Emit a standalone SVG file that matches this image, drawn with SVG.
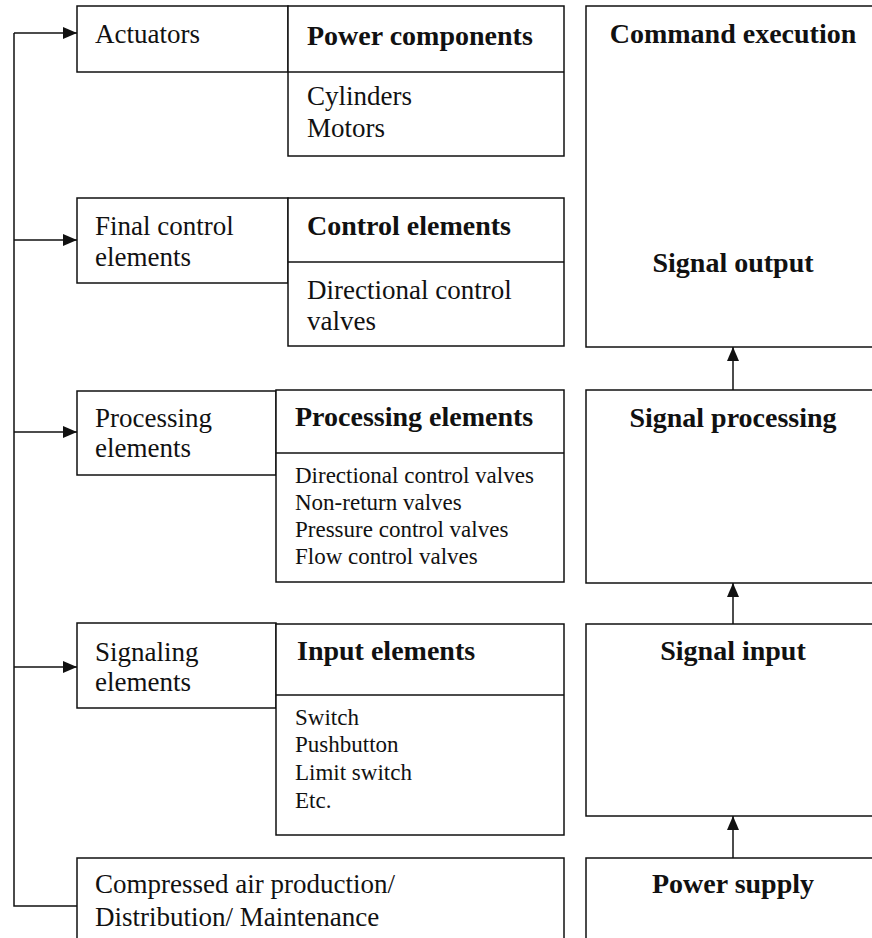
<svg xmlns="http://www.w3.org/2000/svg" width="872" height="938" viewBox="0 0 872 938">
<defs>
<style>
.box{fill:#fff;stroke:#111;stroke-width:1.5}
.ln{fill:none;stroke:#111;stroke-width:1.5}
.t{font-family:"Liberation Serif","Times New Roman",serif;font-size:27px;fill:#111}
.b{font-family:"Liberation Serif","Times New Roman",serif;font-size:28px;font-weight:bold;fill:#111}
.s{font-family:"Liberation Serif","Times New Roman",serif;font-size:23px;fill:#111}
.c{text-anchor:middle}
</style>
<marker id="ah" viewBox="0 0 14 12" refX="14" refY="6" markerWidth="14" markerHeight="12" markerUnits="userSpaceOnUse" orient="auto">
<path d="M0,0 L14,6 L0,12 Z" fill="#111"/>
</marker>
</defs>
<rect width="872" height="938" fill="#fff"/>

<g id="connectors">
<path class="ln" d="M14,33 V906 H77"/>
<line class="ln" x1="14" y1="33" x2="77" y2="33" marker-end="url(#ah)"/>
<line class="ln" x1="14" y1="240" x2="77" y2="240" marker-end="url(#ah)"/>
<line class="ln" x1="14" y1="432" x2="77" y2="432" marker-end="url(#ah)"/>
<line class="ln" x1="14" y1="667" x2="77" y2="667" marker-end="url(#ah)"/>
<line class="ln" x1="733" y1="390" x2="733" y2="347" marker-end="url(#ah)"/>
<line class="ln" x1="733" y1="624" x2="733" y2="583" marker-end="url(#ah)"/>
<line class="ln" x1="733" y1="858" x2="733" y2="816" marker-end="url(#ah)"/>
</g>

<g id="actuators">
<rect class="box" x="77" y="6" width="211" height="66"/>
<text class="t" x="95" y="43">Actuators</text>
</g>
<g id="power-components">
<rect class="box" x="288" y="6" width="276" height="150"/>
<line class="ln" x1="288" y1="72" x2="564" y2="72"/>
<text class="b" x="307" y="45">Power components</text>
<text class="t" x="307" y="105">Cylinders</text>
<text class="t" x="307" y="137">Motors</text>
</g>

<g id="final-control">
<rect class="box" x="77" y="198" width="211" height="85"/>
<text class="t" x="95" y="235">Final control</text>
<text class="t" x="95" y="266">elements</text>
</g>
<g id="control-elements">
<rect class="box" x="288" y="198" width="276" height="148"/>
<line class="ln" x1="288" y1="262" x2="564" y2="262"/>
<text class="b" x="307" y="235">Control elements</text>
<text class="t" x="307" y="299">Directional control</text>
<text class="t" x="307" y="330">valves</text>
</g>

<g id="processing">
<rect class="box" x="77" y="391" width="199" height="84"/>
<text class="t" x="95" y="427">Processing</text>
<text class="t" x="95" y="457">elements</text>
</g>
<g id="processing-elements">
<rect class="box" x="276" y="390" width="288" height="192"/>
<line class="ln" x1="276" y1="453" x2="564" y2="453"/>
<text class="b" x="295" y="426">Processing elements</text>
<text class="s" x="295" y="483">Directional control valves</text>
<text class="s" x="295" y="510">Non-return valves</text>
<text class="s" x="295" y="537">Pressure control valves</text>
<text class="s" x="295" y="564">Flow control valves</text>
</g>

<g id="signaling">
<rect class="box" x="77" y="623" width="199" height="85"/>
<text class="t" x="95" y="661">Signaling</text>
<text class="t" x="95" y="691">elements</text>
</g>
<g id="input-elements">
<rect class="box" x="276" y="624" width="288" height="211"/>
<line class="ln" x1="276" y1="695" x2="564" y2="695"/>
<text class="b" x="297" y="660">Input elements</text>
<text class="s" x="295" y="725">Switch</text>
<text class="s" x="295" y="752">Pushbutton</text>
<text class="s" x="295" y="780">Limit switch</text>
<text class="s" x="295" y="808">Etc.</text>
</g>

<g id="compressed-air">
<rect class="box" x="77" y="858" width="487" height="100"/>
<text class="t" x="95" y="893">Compressed air production/</text>
<text class="t" x="95" y="926">Distribution/ Maintenance</text>
</g>

<g id="command-execution">
<rect class="box" x="586" y="6" width="294" height="341"/>
<text class="b c" x="733" y="43">Command execution</text>
<text class="b c" x="733" y="272">Signal output</text>
</g>
<g id="signal-processing">
<rect class="box" x="586" y="390" width="294" height="193"/>
<text class="b c" x="733" y="427">Signal processing</text>
</g>
<g id="signal-input">
<rect class="box" x="586" y="624" width="294" height="192"/>
<text class="b c" x="733" y="660">Signal input</text>
</g>
<g id="power-supply">
<rect class="box" x="586" y="858" width="294" height="100"/>
<text class="b c" x="733" y="893">Power supply</text>
</g>
</svg>
